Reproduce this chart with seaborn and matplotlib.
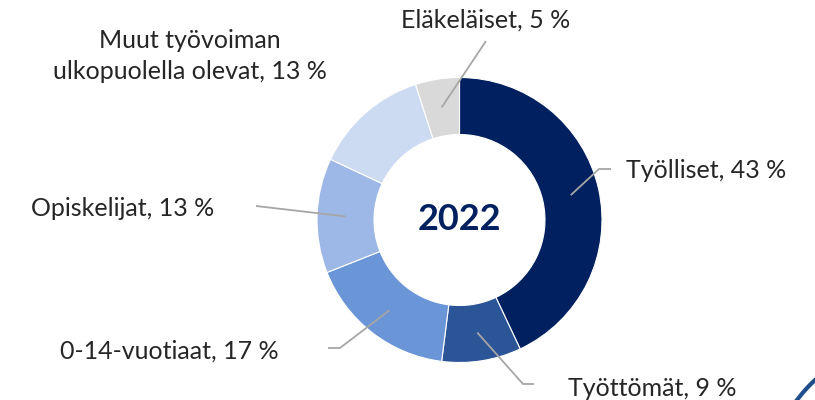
import numpy as np
import seaborn as sns
import matplotlib.pyplot as plt
from matplotlib.patches import Arc

sns.set_theme(style="white")
plt.rcParams['font.family'] = ['Lato', 'DejaVu Sans']

labels = ['Työlliset', 'Työttömät', '0-14-vuotiaat', 'Opiskelijat',
          'Muut työvoiman\nulkopuolella olevat', 'Eläkeläiset']
shares = [43, 9, 17, 13, 13, 5]
colors = ['#002060', '#2B5597', '#6A95D6', '#9DB8E6', '#CCDAF2', '#D9D9D9']
year = '2022'

# label placement in pixels (image y measured from top)
# (elbow, line end, text pos, ha)
layout = [
    ((599, 169), (611, 169), (626, 171), 'left'),
    ((523, 384), (534, 384), (568, 388), 'left'),
    ((340, 348), (328, 348), (279, 351), 'right'),
    (None, (256, 206), (214, 209), 'right'),
    (None, None, (190, 56), 'center'),
    (None, (486, 41), (486, 20), 'center'),
]

W, H = 815, 400
cx, cy, R, ring = 459.5, 220, 142.5, 57

fig = plt.figure(figsize=(W / 100, H / 100), dpi=100)
ax = fig.add_axes([0, 0, 1, 1])
ax.axis('off')

wedges, _ = ax.pie(shares, startangle=90, counterclock=False, radius=R,
                   center=(cx, H - cy), colors=colors,
                   wedgeprops=dict(width=ring, edgecolor='white', linewidth=0.8))
ax.set_xlim(0, W)
ax.set_ylim(0, H)
ax.set_aspect('equal')

ax.text(cx, H - cy + 1, year, ha='center', va='center', fontsize=26,
        fontweight='bold', color='#002060')

r_mid = R - ring / 2
for w, lab, val, (elbow, end, tpos, ha) in zip(wedges, labels, shares, layout):
    th = np.deg2rad((w.theta1 + w.theta2) / 2)
    sx, sy = cx + r_mid * np.cos(th), (H - cy) + r_mid * np.sin(th)
    if end is not None:
        pts = [(sx, sy)]
        if elbow is not None:
            pts.append((elbow[0], H - elbow[1]))
        pts.append((end[0], H - end[1]))
        xs, ys = zip(*pts)
        ax.plot(xs, ys, color='#A6A6A6', lw=1.3, solid_capstyle='butt')
    ax.text(tpos[0], H - tpos[1], f'{lab}, {val} %', ha=ha, va='center',
            fontsize=18, color='#262626', linespacing=1.38)

# decorative arc in the corner
ax.add_patch(Arc((917, H - 490), 300, 300, theta1=110, theta2=160,
                 color='#1F4E8C', lw=3, clip_on=True))

fig.savefig('out.png', dpi=100)
